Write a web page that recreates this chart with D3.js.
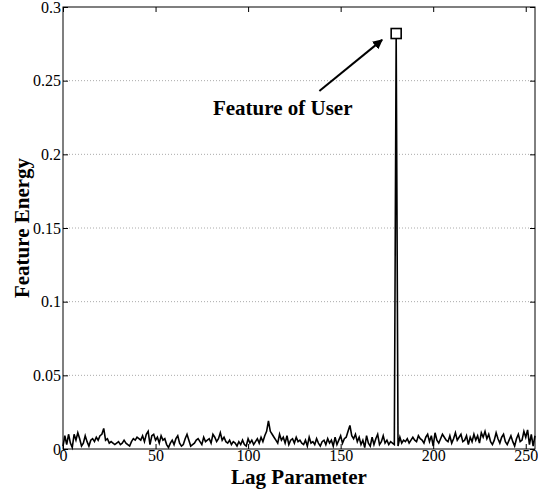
<!DOCTYPE html>
<html>
<head>
<meta charset="utf-8">
<script src="https://cdn.jsdelivr.net/npm/d3@7"></script>
<style>
  body { margin: 0; background: #fff; }
  svg text { font-family: "Liberation Serif", "Times New Roman", serif !important; }
</style>
</head>
<body>
<svg id="chart" width="538" height="491"></svg>
<script>
// feature energy per lag (index = lag parameter)
const energy = [
  0.002, 0.009, 0.003, 0.010, 0.004, 0.001, 0.010, 0.006, 0.011, 0.007, 0.002, 0.004, 0.009, 0.005, 0.002, 0.006,
  0.007, 0.005, 0.008, 0.006, 0.009, 0.010, 0.014, 0.006, 0.007, 0.004, 0.005, 0.004, 0.003, 0.004, 0.005, 0.003,
  0.004, 0.006, 0.004, 0.003, 0.002, 0.005, 0.007, 0.006, 0.008, 0.007, 0.006, 0.009, 0.005, 0.010, 0.012, 0.003,
  0.009, 0.010, 0.006, 0.008, 0.004, 0.009, 0.006, 0.007, 0.003, 0.001, 0.004, 0.006, 0.003, 0.007, 0.009, 0.004,
  0.002, 0.003, 0.007, 0.010, 0.006, 0.002, 0.003, 0.004, 0.006, 0.007, 0.005, 0.003, 0.008, 0.005, 0.006, 0.007,
  0.004, 0.010, 0.008, 0.005, 0.007, 0.011, 0.006, 0.008, 0.005, 0.004, 0.006, 0.003, 0.005, 0.004, 0.002, 0.005,
  0.003, 0.006, 0.003, 0.002, 0.007, 0.004, 0.006, 0.003, 0.005, 0.007, 0.004, 0.008, 0.005, 0.009, 0.012, 0.019,
  0.012, 0.010, 0.008, 0.006, 0.004, 0.010, 0.006, 0.008, 0.004, 0.009, 0.003, 0.006, 0.007, 0.004, 0.008, 0.005,
  0.006, 0.004, 0.003, 0.006, 0.002, 0.008, 0.004, 0.005, 0.003, 0.007, 0.004, 0.002, 0.005, 0.006, 0.003, 0.007,
  0.004, 0.006, 0.002, 0.008, 0.003, 0.006, 0.009, 0.004, 0.007, 0.008, 0.012, 0.016, 0.009, 0.007, 0.010, 0.005,
  0.008, 0.003, 0.006, 0.001, 0.009, 0.004, 0.002, 0.008, 0.003, 0.007, 0.010, 0.003, 0.005, 0.009, 0.004, 0.006,
  0.003, 0.005, 0.004, 0.003, 0.282, 0.002, 0.008, 0.004, 0.006, 0.005, 0.007, 0.004, 0.006, 0.008, 0.006, 0.005,
  0.009, 0.007, 0.006, 0.004, 0.008, 0.010, 0.005, 0.009, 0.002, 0.011, 0.006, 0.004, 0.007, 0.010, 0.008, 0.006,
  0.005, 0.009, 0.004, 0.007, 0.011, 0.006, 0.008, 0.010, 0.005, 0.006, 0.009, 0.003, 0.008, 0.005, 0.010, 0.006,
  0.009, 0.004, 0.011, 0.008, 0.012, 0.007, 0.010, 0.005, 0.003, 0.006, 0.011, 0.007, 0.004, 0.008, 0.010, 0.005,
  0.003, 0.006, 0.009, 0.005, 0.002, 0.007, 0.010, 0.005, 0.006, 0.012, 0.008, 0.013, 0.003, 0.010, 0.002, 0.009
];
const xTicks = [0, 50, 100, 150, 200, 250];
const yTicks = [0, 0.05, 0.1, 0.15, 0.2, 0.25, 0.3];
const yTickLabels = ['0', '0.05', '0.1', '0.15', '0.2', '0.25', '0.3'];
const annotation = 'Feature of User';
const peakLag = 180;
// annotation placement in data units: text start, arrow tail, arrow head
const noteText = [81, 0.2267];
const arrowFrom = [138.5, 0.243];
const arrowTo = [172.4, 0.2777];

const serif = '"Liberation Serif", "Times New Roman", serif';
const margin = { top: 7, right: 3, bottom: 42, left: 63 };
const svg = d3.select('#chart');
const width = +svg.attr('width') - margin.left - margin.right;
const height = +svg.attr('height') - margin.top - margin.bottom;

const x = d3.scaleLinear().domain([0, 255]).range([0, width]);
const y = d3.scaleLinear().domain([0, 0.3]).range([height, 0]);

const g = svg.append('g').attr('transform', `translate(${margin.left},${margin.top})`);

// dotted grid
g.append('g')
  .selectAll('line')
  .data(yTicks.slice(1, -1))
  .join('line')
  .attr('x1', 0).attr('x2', width)
  .attr('y1', d => y(d)).attr('y2', d => y(d))
  .attr('stroke', '#aaa')
  .attr('stroke-width', 1)
  .attr('stroke-dasharray', '1,2');

// axes, ticks pointing inward
const fmt = d => yTickLabels[yTicks.indexOf(d)];
const styleAxis = sel => {
  sel.attr('font-family', serif).attr('font-size', 16);
  sel.select('.domain').remove();
  sel.selectAll('line').attr('stroke', '#000');
  sel.selectAll('text')
    .attr('fill', '#000')
    .style('font-family', serif)
    .style('font-size', '16px');
};
g.append('g').attr('transform', `translate(0,${height})`)
  .call(d3.axisBottom(x).tickValues(xTicks).tickSizeInner(-5).tickSizeOuter(0).tickPadding(1))
  .call(styleAxis);
g.append('g')
  .call(d3.axisTop(x).tickValues(xTicks).tickSizeInner(-5).tickSizeOuter(0).tickFormat(''))
  .call(styleAxis);
g.append('g')
  .call(d3.axisLeft(y).tickValues(yTicks).tickFormat(fmt).tickSizeInner(-5).tickSizeOuter(0).tickPadding(2))
  .call(styleAxis);
g.append('g').attr('transform', `translate(${width},0)`)
  .call(d3.axisRight(y).tickValues(yTicks).tickSizeInner(-5).tickSizeOuter(0).tickFormat(''))
  .call(styleAxis);

// line
const line = d3.line().x((d, i) => x(i)).y(d => y(d));
g.append('path')
  .datum(energy)
  .attr('d', line)
  .attr('fill', 'none')
  .attr('stroke', '#000')
  .attr('stroke-width', 1.6)
  .attr('stroke-linejoin', 'miter');

// frame
g.append('rect')
  .attr('width', width).attr('height', height)
  .attr('fill', 'none').attr('stroke', '#000').attr('stroke-width', 1);

// peak marker
const px = x(peakLag), py = y(energy[peakLag]);
g.append('rect')
  .attr('x', px - 5).attr('y', py - 5)
  .attr('width', 10).attr('height', 10)
  .attr('fill', '#fff').attr('stroke', '#000').attr('stroke-width', 1.6);

// annotation arrow
svg.append('defs').append('marker')
  .attr('id', 'arrow')
  .attr('viewBox', '0 0 10 10')
  .attr('refX', 9).attr('refY', 5)
  .attr('markerWidth', 5).attr('markerHeight', 5)
  .attr('orient', 'auto')
  .append('path').attr('d', 'M0,0L10,5L0,10Z').attr('fill', '#000');

g.append('line')
  .attr('x1', x(arrowFrom[0])).attr('y1', y(arrowFrom[1]))
  .attr('x2', x(arrowTo[0])).attr('y2', y(arrowTo[1]))
  .attr('stroke', '#000').attr('stroke-width', 2)
  .attr('marker-end', 'url(#arrow)');

g.append('text')
  .attr('x', x(noteText[0])).attr('y', y(noteText[1]))
  .style('font-family', serif)
  .style('font-size', '21px').style('font-weight', 'bold')
  .text(annotation);

// axis titles
svg.append('text')
  .attr('x', margin.left + width / 2).attr('y', 484)
  .attr('text-anchor', 'middle')
  .style('font-family', serif)
  .style('font-size', '21px').style('font-weight', 'bold')
  .text('Lag Parameter');

svg.append('text')
  .attr('transform', `translate(29,${margin.top + height / 2}) rotate(-90)`)
  .attr('text-anchor', 'middle')
  .style('font-family', serif)
  .style('font-size', '21px').style('font-weight', 'bold')
  .text('Feature Energy');
</script>
</body>
</html>
